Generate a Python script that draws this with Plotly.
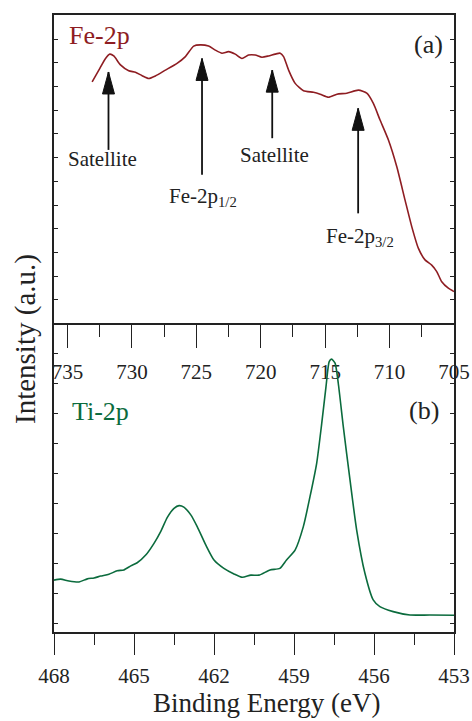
import plotly.graph_objects as go

# ---------------- data ----------------
fe_energy = [733.09, 732.57, 732.05, 731.72, 731.41, 730.89, 730.25, 729.73, 729.21, 728.70,
             728.18, 727.40, 726.50, 725.85, 725.21, 724.69, 724.05, 723.53, 723.01, 722.50,
             721.98, 721.46, 720.95, 720.43, 719.91, 719.40, 718.88, 718.49, 718.23, 717.84,
             717.33, 716.68, 715.91, 715.39, 714.74, 714.09, 713.32, 712.42, 711.77, 711.26,
             710.74, 710.09, 709.44, 708.80, 708.28, 707.77, 707.25, 706.73, 706.34, 705.95,
             705.44, 705.00]
fe_intensity = [78.3, 82.1, 85.9, 87.3, 86.7, 83.8, 81.9, 81.4, 80.3, 79.4,
                80.2, 82.1, 84.3, 86.5, 89.9, 90.3, 89.9, 88.6, 87.6, 88.1,
                87.3, 85.9, 87.0, 87.0, 86.3, 86.7, 87.3, 87.6, 86.5, 82.1,
                77.8, 75.4, 74.9, 74.3, 73.3, 74.3, 74.6, 75.6, 74.6, 71.3,
                65.9, 59.4, 50.7, 39.9, 31.3, 24.3, 20.5, 18.8, 16.7, 13.4,
                11.3, 10.2]

ti_energy = [468.00, 467.75, 467.44, 467.06, 466.75, 466.50, 466.25, 465.94, 465.63, 465.38,
             465.12, 464.88, 464.56, 464.25, 464.00, 463.75, 463.50, 463.31, 463.13, 462.87,
             462.63, 462.31, 462.00, 461.63, 461.25, 460.94, 460.62, 460.31, 459.90, 459.53,
             459.28, 458.96, 458.65, 458.40, 458.15, 457.96, 457.80, 457.68, 457.59, 457.46,
             457.34, 457.15, 456.90, 456.65, 456.34, 456.03, 455.78, 455.28, 454.65, 453.90,
             453.00]
ti_intensity = [16.8, 17.1, 16.5, 16.2, 17.2, 17.5, 18.1, 18.7, 19.8, 20.1,
                21.4, 22.4, 24.9, 28.7, 32.5, 37.1, 40.0, 40.9, 40.4, 37.9,
                34.1, 28.2, 23.3, 20.6, 18.8, 17.7, 18.4, 18.4, 20.1, 20.6,
                23.3, 26.5, 34.1, 43.8, 54.6, 67.5, 79.4, 87.5, 88.3, 87.0,
                80.5, 66.4, 49.2, 33.0, 19.0, 10.4, 8.2, 6.6, 5.5, 5.5,
                5.4]

fe_ticks = [735, 730, 725, 720, 715, 710, 705]
ti_ticks = [468, 465, 462, 459, 456, 453]

# peak labels: text, text E, text v, arrow E, arrow tip v, arrow tail v
peak_labels = ["Satellite", "Fe-2p<sub>1/2</sub>", "Satellite", "Fe-2p<sub>3/2</sub>"]
label_x = [732.29, 727.25, 718.91, 715.08]
label_y = [53.2, 40.9, 54.5, 27.9]
label_anchor = ["center", "left", "center", "left"]
arrow_x = [731.82, 724.56, 719.11, 712.44]
arrow_tip = [81.5, 85.9, 82.1, 69.7]
arrow_tail = [56.2, 48.1, 60.0, 35.6]

FE_COLOR = "#8E1D22"
TI_COLOR = "#0B6B3D"
AX_COLOR = "#222222"
SERIF = "Liberation Serif"

fig = go.Figure()
fig.add_trace(go.Scatter(x=fe_energy, y=fe_intensity, mode="lines",
                         line=dict(color=FE_COLOR, width=1.6, shape="spline", smoothing=0.6),
                         xaxis="x", yaxis="y", showlegend=False))
fig.add_trace(go.Scatter(x=ti_energy, y=ti_intensity, mode="lines",
                         line=dict(color=TI_COLOR, width=1.6, shape="spline", smoothing=0.6),
                         xaxis="x2", yaxis="y2", showlegend=False))

split = (632 - 323) / 617

common_x = dict(showgrid=False, zeroline=False, showline=True, linecolor=AX_COLOR, linewidth=1.5,
                ticks="outside", tickcolor=AX_COLOR, tickwidth=1.3, automargin=False,
                tickfont=dict(family=SERIF, size=21, color="#222"))
common_y = dict(showgrid=False, zeroline=False, showline=True, linecolor=AX_COLOR, linewidth=1.5,
                mirror="allticks", ticks="inside", ticklen=4, tickcolor=AX_COLOR, tickwidth=1.2,
                showticklabels=False, automargin=False)

fig.update_layout(
    width=472, height=721,
    margin=dict(l=54, r=18, t=15, b=89, autoexpand=False),
    paper_bgcolor="white", plot_bgcolor="white",
    font=dict(family=SERIF, color="#222"),
    xaxis=dict(domain=[0, 1], anchor="y", range=[736.05, 705.0], mirror=True,
               tickvals=fe_ticks, ticklen=23,
               minor=dict(dtick=2.5, tick0=705, ticks="outside", ticklen=12,
                          tickcolor=AX_COLOR, tickwidth=1.3),
               ticklabelstandoff=6, **common_x),
    yaxis=dict(domain=[split, 1], anchor="x", range=[0, 100], tick0=7.5, dtick=7.7, **common_y),
    xaxis2=dict(domain=[0, 1], anchor="y2", range=[468, 453], mirror=False,
                tickvals=ti_ticks, ticklen=21,
                minor=dict(dtick=1.5, tick0=453, ticks="outside", ticklen=11,
                           tickcolor=AX_COLOR, tickwidth=1.3),
                ticklabelstandoff=3, **common_x),
    yaxis2=dict(domain=[0, split], anchor="x2", range=[0, 100], tick0=2.9, dtick=9.71, **common_y),
)

ann = []
# axis titles
ann.append(dict(text="Intensity (a.u.)", textangle=-90, xref="paper", yref="paper",
                x=0, y=(632 - 339) / 617, xanchor="center", yanchor="middle", xshift=-28,
                showarrow=False, font=dict(family=SERIF, size=29, color="#222")))
ann.append(dict(text="Binding Energy (eV)", xref="paper", yref="paper",
                x=(266.5 - 54) / 400, y=0, xanchor="center", yanchor="middle", yshift=-71,
                showarrow=False, borderpad=0, font=dict(family=SERIF, size=27, color="#222")))
# panel labels
ann.append(dict(text="Fe-2p", xref="x", yref="y", x=735.08, y=93.5, xanchor="left", yanchor="middle",
                showarrow=False, font=dict(family=SERIF, size=26, color=FE_COLOR)))
ann.append(dict(text="(a)", xref="x", yref="y", x=705.70, y=90.3, xanchor="right", yanchor="middle",
                showarrow=False, font=dict(family=SERIF, size=26, color="#222")))
ann.append(dict(text="Ti-2p", xref="x2", yref="y2", x=467.40, y=71.2, xanchor="left", yanchor="middle",
                showarrow=False, font=dict(family=SERIF, size=26, color=TI_COLOR)))
ann.append(dict(text="(b)", xref="x2", yref="y2", x=453.49, y=71.8, xanchor="right", yanchor="middle",
                showarrow=False, font=dict(family=SERIF, size=26, color="#222")))
for t, lx, ly, la in zip(peak_labels, label_x, label_y, label_anchor):
    ann.append(dict(text=t, xref="x", yref="y", x=lx, y=ly, xanchor=la, yanchor="middle",
                    showarrow=False, font=dict(family=SERIF, size=21, color="#222")))

shapes = []
for ax_, tip, tail in zip(arrow_x, arrow_tip, arrow_tail):
    shapes.append(dict(type="line", xref="x", yref="y", x0=ax_, x1=ax_, y0=tail, y1=tip,
                       line=dict(color="#111", width=1.8)))
    shapes.append(dict(type="path", xref="x", yref="y", xsizemode="pixel", ysizemode="pixel",
                       xanchor=ax_, yanchor=tip, path="M-6,-22 L0,0 L6,-22 Z",
                       fillcolor="#111", line=dict(color="#111", width=1)))

fig.update_layout(annotations=ann, shapes=shapes)
fig.write_html("out.html")
